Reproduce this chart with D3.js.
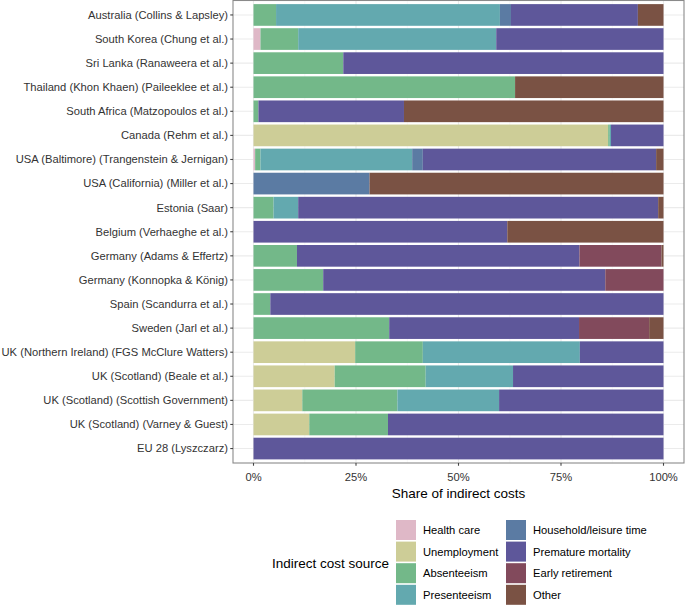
<!DOCTYPE html>
<html><head><meta charset="utf-8">
<script src="https://cdn.jsdelivr.net/npm/d3@7"></script>
<style>body{margin:0;background:#fff;} svg{display:block;font-family:"Liberation Sans",Arial,sans-serif;}</style>
</head><body><svg id="c" width="685" height="605"></svg>
<script>
const categories = [
"Australia (Collins & Lapsley)","South Korea (Chung et al.)","Sri Lanka (Ranaweera et al.)",
"Thailand (Khon Khaen) (Paileeklee et al.)","South Africa (Matzopoulos et al.)","Canada (Rehm et al.)",
"USA (Baltimore) (Trangenstein & Jernigan)","USA (California) (Miller et al.)","Estonia (Saar)",
"Belgium (Verhaeghe et al.)","Germany (Adams & Effertz)","Germany (Konnopka & König)",
"Spain (Scandurra et al.)","Sweden (Jarl et al.)","UK (Northern Ireland) (FGS McClure Watters)",
"UK (Scotland) (Beale et al.)","UK (Scotland) (Scottish Government)","UK (Scotland) (Varney & Guest)","EU 28 (Lyszczarz)"];
const sources = ["Health care","Unemployment","Absenteeism","Presenteeism","Household/leisure time","Premature mortality","Early retirement","Other"];
const healthCare    = [0,1.7,0,0,0,0,0.4,0,0,0,0,0,0,0,0,0,0,0,0];
const unemployment  = [0,0,0,0,0,86.5,0,0,0,0,0,0,0,0,24.8,19.8,11.9,13.6,0];
const absenteeism   = [5.5,9.2,21.9,63.8,1.2,0.4,1.3,0,4.9,0,10.6,17.0,4.1,33.1,16.5,22.2,23.2,19.2,0];
const presenteeism  = [54.6,48.3,0,0,0,0.3,37.0,0,6.0,0,0,0,0,0,38.3,21.3,24.8,0,0];
const household     = [2.7,0,0,0,0,0,2.6,28.3,0,0,0,0,0,0,0,0,0,0,0];
const premature     = [30.95,40.8,78.1,0,35.5,12.8,56.9,0,87.8,61.9,68.9,68.8,95.9,46.3,20.4,36.7,40.1,67.2,100];
const earlyRetire   = [0,0,0,0,0,0,0,0,0,0,20.0,14.2,0,17.1,0,0,0,0,0];
const other         = [6.25,0,0,36.2,63.3,0,1.8,71.7,1.3,38.1,0.5,0,0,3.5,0,0,0,0,0];
const xTicks = [0,25,50,75,100];
const xTickLabels = ["0%","25%","50%","75%","100%"];
const colors = ["#dfb8c7","#cdcd97","#73b889","#63a9af","#5b7ba3","#5e579a","#824a5c","#7a5244"];

const series = [healthCare,unemployment,absenteeism,presenteeism,household,premature,earlyRetire,other];
const rows = categories.map((c,i)=>{const o={cat:c}; sources.forEach((s,j)=>o[s]=series[j][i]); return o;});
const stacked = d3.stack().keys(sources)(rows);

const svg = d3.select("#c");
const P = {l:233, r:684, t:0.5, b:463};
const x = d3.scaleLinear().domain([-5,105]).range([P.l,P.r]);
const step = (P.b-P.t)/(categories.length-1+1.2);
const yc = d3.scalePoint().domain(categories).range([P.t+0.6*step, P.b-0.6*step]);
const bw = 0.9*step;

svg.append("rect").attr("x",P.l).attr("y",P.t).attr("width",P.r-P.l).attr("height",P.b-P.t).attr("fill","#fff");
const g = svg.append("g");
[12.5,37.5,62.5,87.5].forEach(v=>g.append("line").attr("x1",x(v)).attr("x2",x(v)).attr("y1",P.t).attr("y2",P.b).attr("stroke","#f2f2f2").attr("stroke-width",0.55));
xTicks.forEach(v=>g.append("line").attr("x1",x(v)).attr("x2",x(v)).attr("y1",P.t).attr("y2",P.b).attr("stroke","#ebebeb").attr("stroke-width",1.1));
categories.forEach(c=>g.append("line").attr("x1",P.l).attr("x2",P.r).attr("y1",yc(c)).attr("y2",yc(c)).attr("stroke","#ebebeb").attr("stroke-width",1.1));

stacked.forEach((s,j)=>{
  g.selectAll(null).data(s).enter().append("rect")
   .attr("x",d=>x(d[0])).attr("width",d=>Math.max(0,x(d[1])-x(d[0])))
   .attr("y",d=>yc(d.data.cat)-bw/2).attr("height",bw)
   .attr("fill",colors[j]);
});
svg.append("rect").attr("x",P.l).attr("y",P.t).attr("width",P.r-P.l).attr("height",P.b-P.t).attr("fill","none").attr("stroke","#8a8a8a").attr("stroke-width",1.1);

categories.forEach(c=>{
  svg.append("line").attr("x1",P.l-2.75).attr("x2",P.l).attr("y1",yc(c)).attr("y2",yc(c)).attr("stroke","#444").attr("stroke-width",1.1);
  svg.append("text").attr("x",P.l-5).attr("y",yc(c)).attr("dy","0.35em").attr("text-anchor","end").attr("font-size",11.2).attr("fill","#333").text(c);
});
xTicks.forEach((v,i)=>{
  svg.append("line").attr("x1",x(v)).attr("x2",x(v)).attr("y1",P.b).attr("y2",P.b+2.75).attr("stroke","#444").attr("stroke-width",1.1);
  svg.append("text").attr("x",x(v)).attr("y",P.b+18).attr("text-anchor","middle").attr("font-size",11.2).attr("fill","#333").text(xTickLabels[i]);
});
svg.append("text").attr("x",(P.l+P.r)/2).attr("y",498).attr("text-anchor","middle").attr("font-size",13.5).attr("fill","#000").text("Share of indirect costs");

const L = svg.append("g");
L.append("text").attr("x",272).attr("y",563).attr("dy","0.35em").attr("font-size",13.5).attr("fill","#000").text("Indirect cost source");
sources.forEach((s,i)=>{
  const col = Math.floor(i/4), row = i%4;
  const kx = col===0?396:506, ky = 520+row*21.6;
  L.append("rect").attr("x",kx).attr("y",ky).attr("width",20).attr("height",20).attr("fill",colors[i]);
  L.append("text").attr("x",kx+27).attr("y",ky+10).attr("dy","0.35em").attr("font-size",11.2).attr("fill","#000").text(s);
});
</script></body></html>
